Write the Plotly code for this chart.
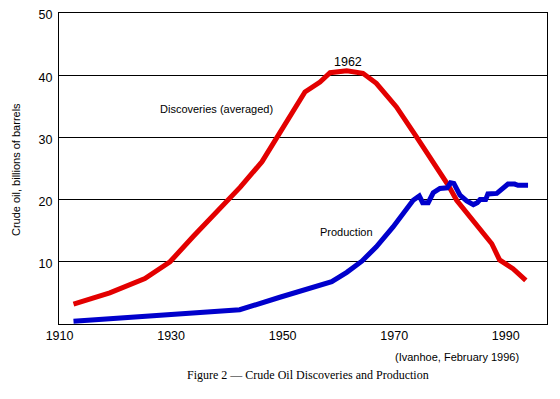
import plotly.graph_objects as go

# Discoveries (averaged), billions of barrels
disc_years = [1912.5, 1919.0, 1925.3, 1929.8, 1934.0, 1940.3, 1942.4, 1946.3, 1948.9,
              1951.9, 1954.0, 1956.7, 1958.5, 1961.5, 1964.4, 1966.8, 1970.4, 1974.0,
              1978.2, 1979.7, 1981.2, 1983.6, 1986.0, 1987.5, 1988.9, 1991.3, 1993.6]
disc_values = [3.2, 5.0, 7.3, 10.0, 14.1, 19.9, 22.0, 26.1, 29.8,
               34.1, 37.3, 38.9, 40.4, 40.7, 40.3, 38.7, 34.9, 30.1,
               24.4, 22.3, 19.9, 17.2, 14.8, 12.9, 10.3, 8.9, 7.0]

# Production, billions of barrels
prod_years = [1912.5, 1923.2, 1934.0, 1942.3, 1949.5, 1953.1, 1958.8, 1961.5, 1964.2,
              1966.8, 1969.8, 1973.4, 1974.5, 1975.1, 1976.1, 1977.0, 1978.2, 1979.5,
              1980.1, 1980.7, 1981.8, 1983.0, 1984.2, 1984.9, 1985.4, 1986.4, 1986.8,
              1988.4, 1989.8, 1990.4, 1991.6, 1992.2, 1994.0]
prod_values = [0.45, 1.1, 1.65, 2.3, 4.3, 5.3, 6.8, 8.3, 10.1,
               12.4, 15.6, 19.9, 20.6, 19.5, 19.5, 21.1, 21.8, 21.9,
               22.7, 22.6, 20.7, 19.8, 19.2, 19.5, 20.0, 20.0, 20.9,
               21.0, 22.1, 22.5, 22.5, 22.3, 22.3]

x_ticks = [1910, 1930, 1950, 1970, 1990]
y_ticks = [10, 20, 30, 40, 50]

RED = "#e30000"
BLUE = "#0000cc"
SANS = "Liberation Sans, Arial, sans-serif"

fig = go.Figure()
fig.add_trace(go.Scatter(x=disc_years, y=disc_values, mode="lines",
                         line=dict(color=RED, width=5), showlegend=False,
                         name="Discoveries (averaged)"))
fig.add_trace(go.Scatter(x=prod_years, y=prod_values, mode="lines",
                         line=dict(color=BLUE, width=5), showlegend=False,
                         name="Production"))

fig.update_layout(
    width=552, height=391,
    margin=dict(l=51, r=13, t=5, b=75, autoexpand=False),
    paper_bgcolor="white", plot_bgcolor="white",
    font=dict(family=SANS, size=12, color="black"),
    xaxis=dict(range=[1909.9, 1997.4], tickvals=x_ticks, ticks="",
               showgrid=False, zeroline=False, showline=True, linecolor="black",
               linewidth=1, mirror=True, tickfont=dict(size=12.5), automargin=False,
               ticklabeloverflow="allow"),
    yaxis=dict(range=[0, 50], tickvals=y_ticks, ticks="", showgrid=True,
               gridcolor="black", gridwidth=1, zeroline=False, showline=True,
               linecolor="black", linewidth=1, mirror=True,
               tickfont=dict(size=12.5), ticklabelstandoff=3, automargin=False,
               ticklabeloverflow="allow", ticklabelshift=2),
    annotations=[
        dict(x=1961.8, y=42.2, xref="x", yref="y", text="1962", showarrow=False,
             xanchor="center", yanchor="middle", font=dict(size=12.5)),
        dict(x=1938.1, y=34.5, xref="x", yref="y", text="Discoveries (averaged)",
             xanchor="center", yanchor="middle", showarrow=False, font=dict(size=11)),
        dict(x=1961.5, y=14.85, xref="x", yref="y", text="Production",
             xanchor="center", yanchor="middle", showarrow=False, font=dict(size=11)),
        dict(x=-0.0881, y=0.495, xref="paper", yref="paper", textangle=-90,
             xanchor="center", yanchor="middle",
             text="Crude oil, billions of barrels", showarrow=False,
             font=dict(size=11)),
        dict(x=0.815, y=-0.106, xref="paper", yref="paper",
             xanchor="center", yanchor="middle",
             text="(Ivanhoe, February 1996)", showarrow=False,
             font=dict(size=11)),
        dict(x=0.511, y=-0.164, xref="paper", yref="paper",
             xanchor="center", yanchor="middle",
             text="Figure 2 \u2014 Crude Oil Discoveries and Production",
             showarrow=False,
             font=dict(family="Liberation Serif, Times New Roman, serif", size=12)),
    ],
)

fig.write_html("out.html")
